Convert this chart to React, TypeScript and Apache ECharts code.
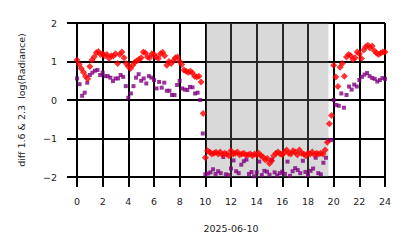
import React, { useEffect, useRef } from "react";
import * as echarts from "echarts";

// 10-minute red series (diff 1.6 & 2.3), hour by hour
const redValues: number[] = [
  1.04, 0.93, 0.82, 0.72, 0.62, 0.55,
  0.87, 1.04, 1.12, 1.23, 1.26, 1.18,
  1.2, 1.15, 1.18, 1.08, 1.15, 1.14,
  1.2, 0.95, 1.18, 1.25, 1.1, 0.95,
  0.87, 0.82, 0.9, 0.98, 1.02, 1.05,
  1.1, 1.25, 1.22, 1.12, 1.1, 1.2,
  1.18, 1.12, 1.08, 1.2, 1.24, 1.15,
  0.9, 1.0, 0.95, 1.02, 1.1, 1.12,
  1.0, 0.92, 0.78, 0.75, 0.72, 0.75,
  0.7, 0.62, 0.6, 0.62, 0.47, -0.35,
  -1.5, -1.32, -1.35, -1.4, -1.38, -1.36,
  -1.4, -1.35, -1.42, -1.38, -1.4, -1.45,
  -1.32, -1.4, -1.38, -1.35, -1.42, -1.4,
  -1.38, -1.43, -1.42, -1.4, -1.45, -1.4,
  -1.42, -1.38, -1.45, -1.48, -1.55, -1.52,
  -1.65, -1.58, -1.45, -1.38, -1.35, -1.4,
  -1.42, -1.35, -1.3, -1.38, -1.4, -1.32,
  -1.35, -1.42, -1.3, -1.38, -1.4, -1.45,
  -1.38, -1.4, -1.35, -1.42, -1.38, -1.4,
  -1.38, -1.4, -1.3, -1.1, -0.62, -0.4,
  0.9, 0.6, 0.35, 0.85, 0.95, 0.62,
  1.12, 1.18, 1.15, 1.05, 1.1, 1.25,
  1.2, 1.08, 1.3, 1.38, 1.42, 1.35,
  1.4, 1.28, 1.22, 1.18, 1.22, 1.25,
  1.25,
];

// 12-minute purple series (log Radiance), hour by hour
const purpleValues: number[] = [
  0.56, 0.41, 0.11, 0.19, 0.45,
  0.65, 0.71, 0.76, 0.78, 0.65,
  0.71, 0.62, 0.62, 0.58, 0.49,
  0.56, 0.56, 0.65, 0.6, 0.36,
  0.06, 0.17, 0.36, 0.58, 0.67,
  0.5, 0.56, 0.43, 0.62, 0.58,
  0.52, 0.3, 0.47, 0.32, 0.45,
  0.24, 0.24, 0.13, 0.13, 0.39,
  0.5, 0.3, 0.27, 0.26, 0.34,
  0.33, 0.17, 0.19, 0.0, -0.87,
  -1.93, -1.91, -1.88, -1.8, -1.92,
  -1.85, -1.9, -1.48, -1.93, -1.95,
  -1.78, -1.57, -1.85, -1.9, -1.68,
  -1.59, -1.55, -1.92, -1.87, -1.98,
  -1.88, -1.6, -1.95, -1.84, -1.86,
  -1.94, -1.55, -1.88, -1.96, -1.9,
  -1.86, -1.92, -1.6, -1.97, -1.85,
  -1.77, -1.82, -1.9, -1.58, -1.87,
  -1.95, -1.84, -1.78, -1.5, -1.9,
  -1.93, -1.63, -1.5, -1.05, -1.04,
  0.0, -0.13, -0.15, 0.17, -0.2,
  0.13, 0.35, 0.27, 0.4, 0.35,
  0.52, 0.6, 0.66, 0.7, 0.62,
  0.57, 0.55, 0.48, 0.52, 0.57,
  0.55,
];

const redPerHour = 6;
const purplePerHour = 5;
const nightSpan: [number, number] = [10.05, 19.6];
const xTicks = { min: 0, max: 24, interval: 2 };
const yTicks = { min: -2, max: 2, interval: 1 };
const xName = "2025-06-10";
const yName = "diff 1.6 & 2.3  log(Radiance)";

const FONT = "DejaVu Sans";
const LINE = { color: "#000", width: 2 };

export default function App() {
  const ref = useRef<HTMLDivElement>(null);
  useEffect(() => {
    document.body.style.margin = "0";
    if (!ref.current) return;
    const chart = echarts.init(ref.current, undefined, { renderer: "svg" });
    const redData = redValues.map((v, i) => [i / redPerHour, v]);
    const purpleData = purpleValues.map((v, i) => [i / purplePerHour, v]);
    chart.setOption({
      animation: false,
      grid: { left: 77, right: 29, top: 23, bottom: 71 },
      xAxis: {
        type: "value",
        min: xTicks.min,
        max: xTicks.max,
        interval: xTicks.interval,
        name: xName,
        nameLocation: "middle",
        nameGap: 46,
        nameTextStyle: { fontFamily: FONT, fontSize: 9.5, color: "#222" },
        axisLine: { show: true, onZero: false, lineStyle: LINE },
        axisTick: { show: true, length: 10, lineStyle: LINE },
        axisLabel: { margin: 19, fontFamily: FONT, fontSize: 9.5, color: "#222" },
        splitLine: { show: true, lineStyle: LINE },
      },
      yAxis: {
        type: "value",
        min: yTicks.min,
        max: yTicks.max,
        interval: yTicks.interval,
        name: yName,
        nameLocation: "middle",
        nameGap: 51,
        nameTextStyle: { fontFamily: FONT, fontSize: 9.5, color: "#222" },
        axisLine: { show: true, onZero: false, lineStyle: LINE },
        axisTick: { show: true, length: 10, lineStyle: LINE },
        axisLabel: {
          margin: 20,
          fontFamily: FONT,
          fontSize: 9.5,
          color: "#222",
          formatter: (v: number) => String(v).replace("-", "\u2212"),
        },
        splitLine: { show: true, lineStyle: LINE },
      },
      series: [
        {
          type: "scatter",
          data: purpleData,
          symbol: "rect",
          symbolSize: 4,
          itemStyle: { color: "#800080" },
          z: 2,
        },
        {
          type: "scatter",
          data: redData,
          symbol: "diamond",
          symbolSize: 7,
          itemStyle: { color: "#ff0000" },
          z: 3,
        },
        {
          type: "line",
          data: [],
          z: 5,
          markArea: {
            silent: true,
            itemStyle: { color: "rgba(128,128,128,0.3)" },
            data: [[{ xAxis: nightSpan[0] }, { xAxis: nightSpan[1] }]],
          },
        },
      ],
    });
    return () => chart.dispose();
  }, []);
  return <div ref={ref} style={{ width: 414, height: 248 }} />;
}
